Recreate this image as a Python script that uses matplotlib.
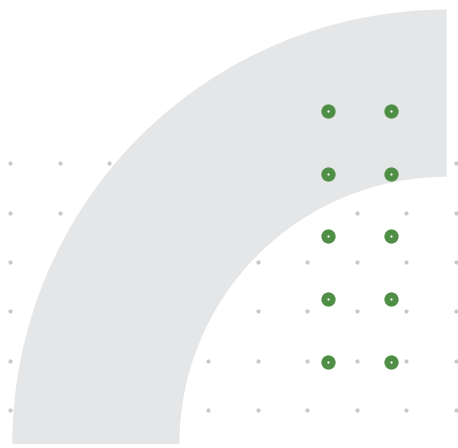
import numpy as np
import matplotlib
matplotlib.use("Agg")
import matplotlib.pyplot as plt
import matplotlib.patches as mpatches

# background grid of small dots (pixel coords)
grid_x = [10, 59.5, 109, 158.5, 208, 257.5, 307, 356.5, 406, 455.5]
grid_y = [163.3, 212.7, 262, 311.3, 360.7, 410.3]

# highlighted points
pts_x = [328.3, 391]
pts_y = [111, 173.7, 236.3, 299, 361.7]

# quarter ring
ring_center = (446.7, 444)
ring_outer = 434.4
ring_inner = 267.3

fig = plt.figure(figsize=(4.58, 4.48), dpi=100)
ax = fig.add_axes([0, 0, 1, 1])
ax.set_xlim(0, 458)
ax.set_ylim(448, 0)
ax.axis("off")

gx, gy = np.meshgrid(grid_x, grid_y)
ax.scatter(gx.ravel(), gy.ravel(), s=9, color="#c8c8c8", linewidths=0, zorder=1)

ring = mpatches.Wedge(ring_center, ring_outer, 180, 270,
                      width=ring_outer - ring_inner,
                      facecolor="#e5e6e8", edgecolor="none", zorder=2)
ax.add_patch(ring)

px, py = np.meshgrid(pts_x, pts_y)
ax.scatter(px.ravel(), py.ravel(), s=105, color="#4e8f45", linewidths=0, zorder=3)
ax.scatter(px.ravel(), py.ravel(), s=2.5, color="white", linewidths=0, zorder=4)

fig.savefig("out.png", dpi=100)
